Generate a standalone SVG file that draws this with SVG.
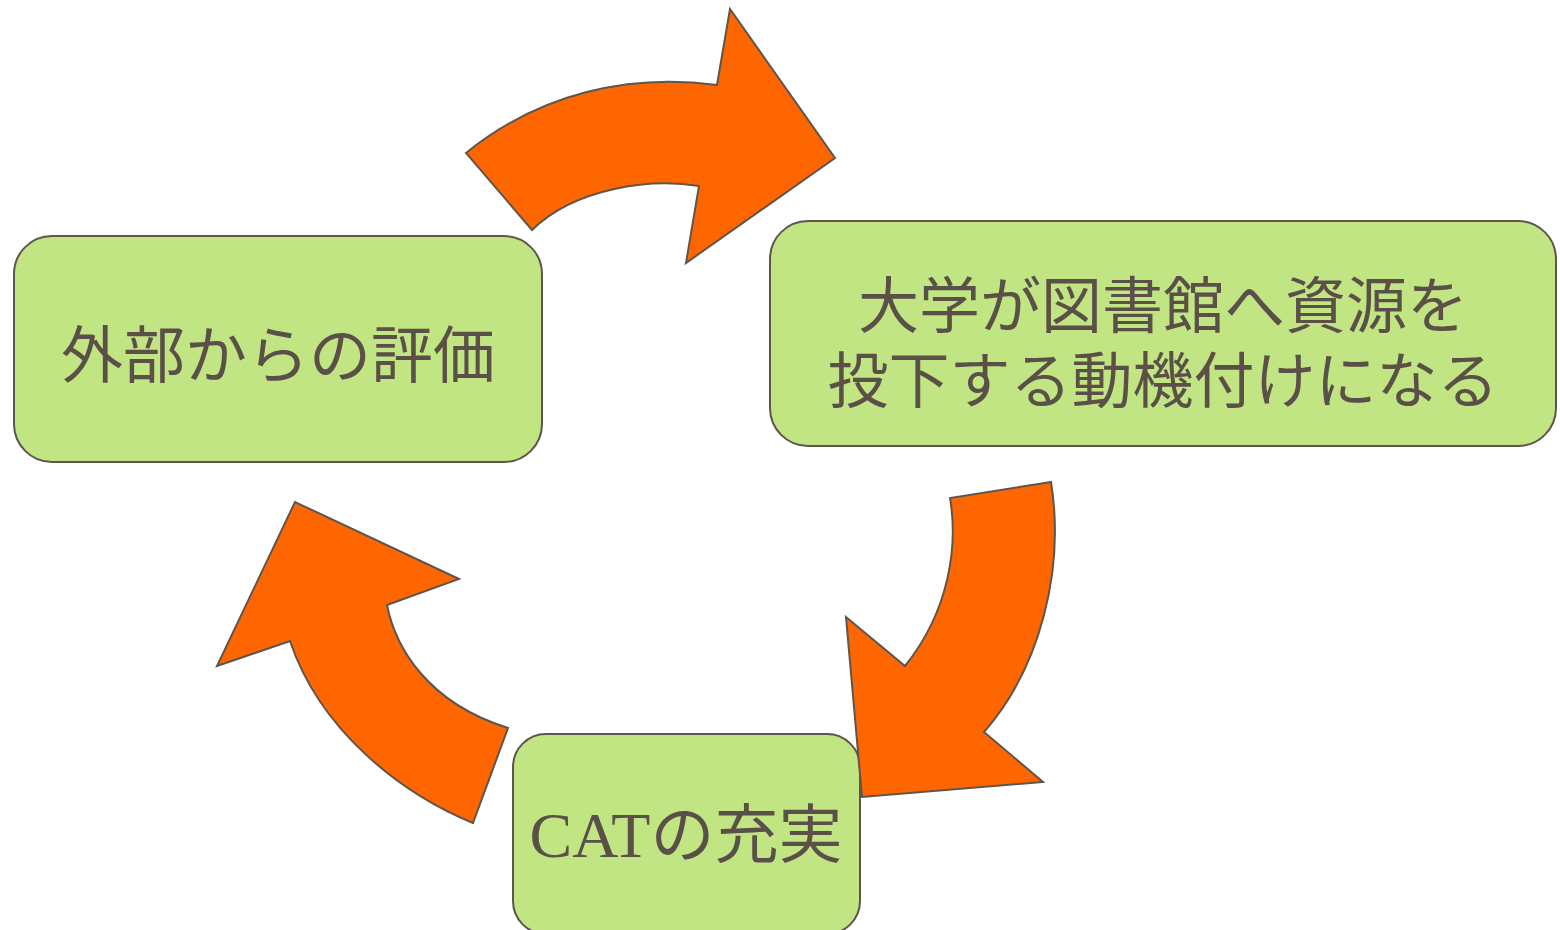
<svg xmlns="http://www.w3.org/2000/svg" width="1560" height="930" viewBox="0 0 1560 930">
<style>
.box{fill:#c2e584;stroke:#5e554c;stroke-width:2}
.arr{fill:#ff6600;stroke:#5e554c;stroke-width:2;stroke-linejoin:miter}
.t{fill:#5a5048;font-family:"Noto Sans CJK JP","Noto Sans CJK SC",sans-serif;font-size:62px;text-anchor:middle}
.s{font-family:"Liberation Serif","Times New Roman",serif}
</style>
<rect width="1560" height="930" fill="#ffffff"/>
<g id="node-external">
<rect class="box" x="14" y="236" width="528" height="226" rx="38" ry="38"/>
<text class="t" x="278" y="378">外部からの評価</text>
</g>
<g id="node-motivation">
<rect class="box" x="770" y="221" width="786" height="225" rx="38" ry="38"/>
<text class="t" x="1163" y="328" style="font-size:61px">大学が図書館へ資源を</text>
<text class="t" x="1163" y="403" style="font-size:61px">投下する動機付けになる</text>
</g>
<g id="node-cat">
<rect class="box" x="513" y="734" width="347" height="200" rx="33" ry="33"/>
<text class="t" x="686" y="857" style="font-size:64px"><tspan class="s">CAT</tspan>の充実</text>
</g>
<g id="connectors">
<path class="arr" d="M466,153 C540,93 630,73 717,85 L730,9 L835,158 L686,263 L699,186 C650,178 575,188 532,230 Z"/>
<path class="arr" d="M1051,482 L950,498 C958,545 950,610 905,666 L846,617 L862,797 L1043,782 L984,732 C1040,668 1065,570 1051,482 Z"/>
<path class="arr" d="M508,728 L473,823 C400,793 320,730 290,641 L217,666 L295,502 L459,579 L387,605 C395,645 425,702 508,728 Z"/>
</g>
</svg>
